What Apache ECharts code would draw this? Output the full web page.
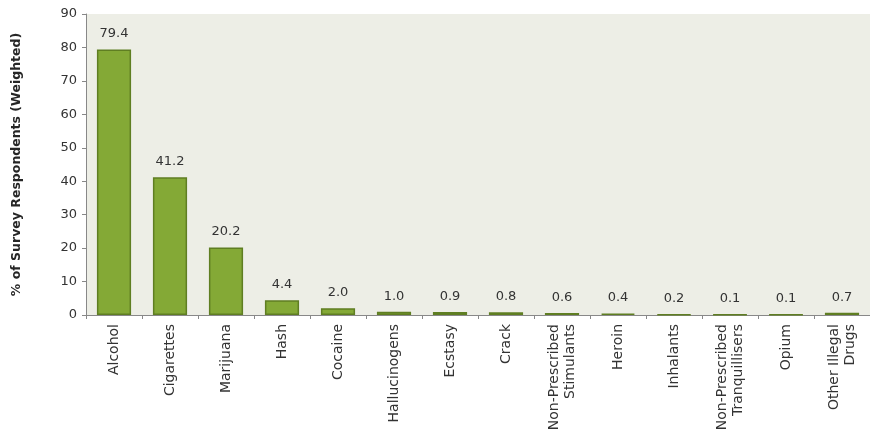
<!DOCTYPE html>
<html>
<head>
<meta charset="utf-8">
<script src="https://cdn.jsdelivr.net/npm/echarts@6/dist/echarts.min.js"></script>
<style>
html,body{margin:0;padding:0;background:#fff;}
#chart{width:870px;height:437px;}
</style>
</head>
<body>
<div id="chart"></div>
<script>
var categories = ["Alcohol","Cigarettes","Marijuana","Hash","Cocaine","Hallucinogens","Ecstasy","Crack","Non-Prescribed\nStimulants","Heroin","Inhalants","Non-Prescribed\nTranquillisers","Opium","Other Illegal\nDrugs"];
var values = [79.4,41.2,20.2,4.4,2.0,1.0,0.9,0.8,0.6,0.4,0.2,0.1,0.1,0.7];
var yTicks = {min:0, max:90, interval:10};
var yTitle = "% of Survey Respondents (Weighted)";

var chart = echarts.init(document.getElementById('chart'), null, {renderer:'canvas'});
var font = "DejaVu Sans";
chart.setOption({
  animation:false,
  backgroundColor:'#ffffff',
  grid:{left:86, top:14, bottom:122, right:-8, show:true, backgroundColor:'#EDEEE6', borderWidth:0, containLabel:false},
  xAxis:{
    type:'category', data:categories,
    axisLine:{lineStyle:{color:'#888888', width:1}},
    axisTick:{show:true, alignWithLabel:false, length:4, lineStyle:{color:'#888888'}},
    axisLabel:{rotate:90, interval:0, margin:9, color:'#333333', fontFamily:font, fontSize:14, lineHeight:16}
  },
  yAxis:{
    type:'value', min:yTicks.min, max:yTicks.max, interval:yTicks.interval,
    name:yTitle, nameLocation:'middle', nameGap:63, nameRotate:90,
    nameTextStyle:{fontFamily:font, fontWeight:'bold', fontSize:12.5, color:'#262626'},
    axisLine:{show:true, lineStyle:{color:'#888888', width:1}},
    axisTick:{show:true, length:4, lineStyle:{color:'#888888'}},
    splitLine:{show:false},
    axisLabel:{margin:9, color:'#333333', fontFamily:font, fontSize:13}
  },
  series:[{
    type:'bar', data:values, barWidth:'61%',
    itemStyle:{color:'#84A936', borderColor:'#5F7E22', borderWidth:1.5},
    label:{show:true, position:'top', distance:9, formatter:function(p){return p.value.toFixed(1);}, color:'#333333', fontFamily:font, fontSize:13}
  }]
});
</script>
</body>
</html>
